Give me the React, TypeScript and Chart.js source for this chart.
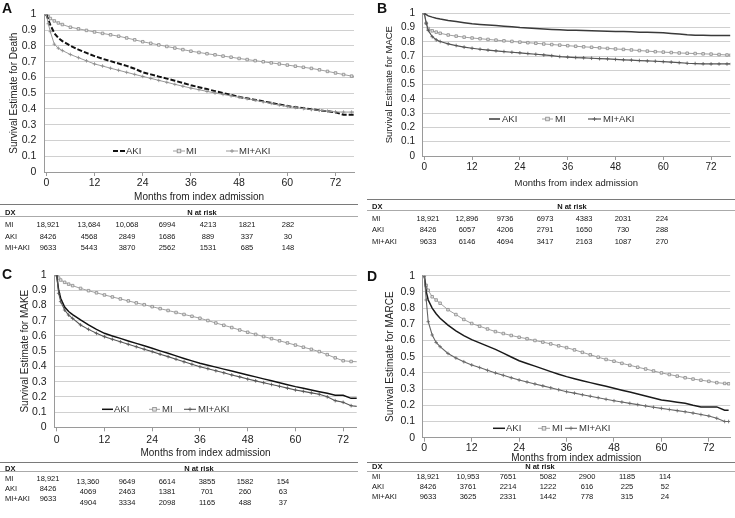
import React, { useEffect, useRef } from 'react';
import { Chart, registerables } from 'chart.js';
Chart.register(...registerables);

// ---------- data ----------
const months = [0, 0.5, 1, 2, 3, 4, 6, 8, 10, 12, 14, 16, 18, 20, 22, 24, 26, 28, 30, 32, 34, 36, 38, 40, 42, 44, 46, 48, 50, 52, 54, 56, 58, 60, 62, 64, 66, 68, 70, 72, 74, 76, 77];
const seriesNames = ['AKI', 'MI', 'MI+AKI'];
const xTickValues = [0, 12, 24, 36, 48, 60, 72];
const yTickValues = [0, 0.1, 0.2, 0.3, 0.4, 0.5, 0.6, 0.7, 0.8, 0.9, 1];

// A: Death
const deathAKI = [1, .965, .933, .88, .85, .83, .8, .776, .755, .735, .718, .703, .688, .673, .655, .632, .619, .605, .592, .579, .565, .55, .538, .526, .513, .501, .489, .476, .467, .457, .448, .438, .428, .418, .411, .405, .398, .391, .385, .378, .363, .363, .363];
const deathMI = [1, .985, .973, .958, .945, .935, .918, .908, .898, .888, .879, .87, .861, .85, .838, .826, .816, .806, .796, .786, .776, .766, .758, .75, .743, .735, .728, .72, .713, .706, .699, .692, .685, .678, .671, .664, .657, .648, .638, .628, .618, .608, .605];
const deathMIAKI = [1, .94, .89, .81, .785, .77, .745, .725, .705, .685, .672, .658, .645, .632, .619, .606, .594, .581, .569, .556, .544, .532, .522, .511, .501, .492, .483, .474, .465, .455, .445, .435, .425, .416, .409, .402, .396, .391, .386, .381, .38, .38, .38];

// B: MACE
const maceAKI = [1, .99, .982, .973, .966, .96, .95, .942, .934, .927, .922, .918, .914, .909, .905, .9, .897, .893, .89, .887, .884, .882, .881, .879, .878, .876, .874, .873, .872, .87, .868, .867, .865, .863, .859, .855, .85, .847, .846, .845, .845, .845, .845];
const maceMI = [1, .93, .893, .877, .868, .86, .848, .84, .833, .827, .822, .817, .812, .807, .803, .798, .794, .79, .785, .781, .777, .773, .769, .765, .762, .758, .754, .75, .747, .743, .739, .735, .731, .728, .725, .722, .72, .718, .716, .714, .711, .708, .707];
const maceMIAKI = [1, .93, .88, .836, .814, .802, .786, .774, .763, .755, .748, .742, .737, .732, .727, .723, .718, .713, .708, .703, .697, .693, .69, .688, .685, .682, .68, .677, .674, .672, .669, .666, .664, .661, .658, .654, .65, .648, .646, .645, .645, .645, .645];

// C: MAKE
const makeAKI = [1, .9, .847, .79, .76, .74, .705, .673, .643, .617, .6, .584, .567, .551, .535, .519, .502, .486, .469, .452, .436, .42, .407, .395, .382, .369, .357, .344, .331, .318, .305, .292, .28, .267, .256, .245, .234, .223, .21, .21, .19, .19, .19];
const makeMI = [1, .98, .967, .952, .94, .93, .912, .897, .883, .869, .856, .843, .83, .817, .805, .792, .779, .767, .754, .741, .729, .716, .701, .685, .67, .655, .639, .624, .61, .596, .582, .568, .554, .54, .526, .512, .497, .477, .456, .437, .432, .43, .43];
const makeMIAKI = [1, .88, .825, .77, .737, .715, .672, .643, .617, .595, .578, .562, .545, .529, .513, .497, .48, .464, .447, .43, .414, .398, .385, .371, .358, .344, .331, .317, .305, .293, .281, .269, .257, .245, .236, .226, .217, .2, .175, .164, .142, .136, .136];

// D: MARCE
const marceAKI = [1, .9, .85, .8, .765, .737, .695, .66, .63, .605, .585, .565, .545, .522, .498, .475, .458, .442, .425, .408, .392, .377, .364, .352, .34, .328, .317, .305, .293, .282, .27, .258, .245, .233, .226, .219, .212, .2, .19, .19, .19, .17, .17];
const marceMI = [1, .94, .91, .87, .85, .83, .79, .76, .73, .705, .688, .671, .655, .643, .631, .62, .611, .6, .59, .579, .567, .556, .542, .527, .512, .497, .483, .472, .459, .447, .435, .424, .412, .4, .39, .38, .37, .362, .355, .348, .34, .335, .333];
const marceMIAKI = [1, .85, .716, .634, .588, .562, .52, .492, .469, .449, .433, .416, .4, .385, .37, .356, .344, .332, .32, .308, .296, .284, .275, .265, .256, .247, .237, .228, .22, .212, .204, .196, .188, .181, .174, .167, .16, .152, .143, .134, .12, .1, .1];

// N at risk
const riskRowLabels = ['MI', 'AKI', 'MI+AKI'];
const riskDeathMI = [18921, 13684, 10068, 6994, 4213, 1821, 282];
const riskDeathAKI = [8426, 4568, 2849, 1686, 889, 337, 30];
const riskDeathMIAKI = [9633, 5443, 3870, 2562, 1531, 685, 148];
const riskMaceMI = [18921, 12896, 9736, 6973, 4383, 2031, 224];
const riskMaceAKI = [8426, 6057, 4206, 2791, 1650, 730, 288];
const riskMaceMIAKI = [9633, 6146, 4694, 3417, 2163, 1087, 270];
const riskMakeMI = [18921, 13360, 9649, 6614, 3855, 1582, 154];
const riskMakeAKI = [8426, 4069, 2463, 1381, 701, 260, 63];
const riskMakeMIAKI = [9633, 4904, 3334, 2098, 1165, 488, 37];
const riskMarceMI = [18921, 10953, 7651, 5082, 2900, 1185, 114];
const riskMarceAKI = [8426, 3761, 2214, 1222, 616, 225, 52];
const riskMarceMIAKI = [9633, 3625, 2331, 1442, 778, 315, 24];

// ---------- styling / layout ----------
const FONT = "'Liberation Sans', Arial, Helvetica, sans-serif";

type Style = { color: string; width: number; dash?: number[]; point?: 'rect' | 'cross'; pColor?: string; pFill?: string };

const miStyle: Style = { color: '#a0a0a0', width: 1, point: 'rect', pColor: '#8a8a8a', pFill: '#e4e4e4' };

const panels = [
  {
    letter: 'A', letterPos: { left: 2, top: 1 },
    yTitle: 'Survival Estimate for Death',
    series: [deathAKI, deathMI, deathMIAKI],
    styles: [
      { color: '#111', width: 2, dash: [5, 2] },
      miStyle,
      { color: '#9a9a9a', width: 1, point: 'cross', pColor: '#8a8a8a' },
    ] as Style[],
    box: { left: 0, top: 0, w: 362, h: 205 },
    pad: { left: 0, top: 9, right: 8, bottom: 0 },
    yW: 44.3, xH: 33, xMin: -0.5, xMax: 76.6,
    xTickPad: 1, xTitlePad: 2, yTitlePad: 8, yTickPad: 8,
    tickSize: 10.5, titleSize: 10,
    legend: { y: 151, items: [{ x0: 113, x1: 125, tx: 126 }, { x0: 173, x1: 185, tx: 186 }, { x0: 226, x1: 238, tx: 239 }] },
    table: {
      top: 205, x0: 0, x1: 358, headY: 212.3, headLine: 216.7, dxX: 5, narX: 201.7,
      rowsY: [224, 236.7, 247.7], restDy: [0, 0, 0],
      cols: [48.3, 89, 127.3, 167.3, 208.3, 246.7, 288],
      rows: [riskDeathMI, riskDeathAKI, riskDeathMIAKI],
    },
  },
  {
    letter: 'B', letterPos: { left: 377, top: 1 },
    yTitle: 'Survival Estimate for MACE',
    series: [maceAKI, maceMI, maceMIAKI],
    styles: [
      { color: '#3a3a3a', width: 1.5 },
      miStyle,
      { color: '#555', width: 1.2, point: 'cross', pColor: '#555' },
    ] as Style[],
    box: { left: 365, top: 0, w: 370, h: 195 },
    pad: { left: 0, top: 9.3, right: 3.3, bottom: 0 },
    yW: 57.3, xH: 39, xMin: -0.5, xMax: 76.8,
    xTickPad: 1.3, xTitlePad: 6.3, yTitlePad: 19, yTickPad: 7.3,
    tickSize: 10, titleSize: 9.5,
    legend: { y: 119, items: [{ x0: 124, x1: 135, tx: 137 }, { x0: 177, x1: 188, tx: 190 }, { x0: 223, x1: 236, tx: 238 }] },
    table: {
      top: 199.3, x0: 367, x1: 735, headY: 206, headLine: 210.5, dxX: 372, narX: 571.7,
      rowsY: [218.5, 229, 241], restDy: [0, 0, 0],
      cols: [428.3, 466.7, 505, 545, 584, 622.7, 661.7],
      rows: [riskMaceMI, riskMaceAKI, riskMaceMIAKI],
    },
  },
  {
    letter: 'C', letterPos: { left: 2, top: 267 },
    yTitle: 'Survival Estimate for MAKE',
    series: [makeAKI, makeMI, makeMIAKI],
    styles: [
      { color: '#111', width: 1.5 },
      miStyle,
      { color: '#555', width: 1.1, point: 'cross', pColor: '#555' },
    ] as Style[],
    box: { left: 0, top: 255, w: 362, h: 205 },
    pad: { left: 0, top: 20, right: 5.3, bottom: 0 },
    yW: 54.3, xH: 32.7, xMin: -0.6, xMax: 75.4,
    xTickPad: 3, xTitlePad: 1, yTitlePad: 19, yTickPad: 7.6,
    tickSize: 10.5, titleSize: 10,
    legend: { y: 154.3, items: [{ x0: 102, x1: 113, tx: 114 }, { x0: 149, x1: 160, tx: 162 }, { x0: 184, x1: 196, tx: 198 }] },
    table: {
      top: 462.7, x0: 0, x1: 358, headY: 468, headLine: 471.7, dxX: 5, narX: 199.3,
      rowsY: [478, 488.3, 498.3], restDy: [3, 2.7, 4.4],
      cols: [48.3, 87.7, 126.7, 166.7, 206.7, 245, 283.3],
      rows: [riskMakeMI, riskMakeAKI, riskMakeMIAKI],
    },
  },
  {
    letter: 'D', letterPos: { left: 367, top: 269 },
    yTitle: 'Survival Estimate for MARCE',
    series: [marceAKI, marceMI, marceMIAKI],
    styles: [
      { color: '#1a1a1a', width: 1.5 },
      miStyle,
      { color: '#666', width: 1.1, point: 'cross', pColor: '#666' },
    ] as Style[],
    box: { left: 365, top: 255, w: 370, h: 210 },
    pad: { left: 0, top: 20.7, right: 1.7, bottom: 0 },
    yW: 57.3, xH: 27.3, xMin: -0.5, xMax: 77.4,
    xTickPad: 0, xTitlePad: 0.7, yTitlePad: 19, yTickPad: 7.3,
    tickSize: 10.5, titleSize: 10,
    legend: { y: 173.3, items: [{ x0: 128, x1: 140, tx: 141 }, { x0: 173, x1: 185, tx: 187 }, { x0: 200, x1: 212, tx: 214 }] },
    table: {
      top: 462.5, x0: 367, x1: 735, headY: 466.7, headLine: 471, dxX: 371.7, narX: 539.7,
      rowsY: [476.7, 486, 496], restDy: [0, 0, 0],
      cols: [428.3, 467.7, 508.3, 548.3, 586.7, 626.7, 665],
      rows: [riskMarceMI, riskMarceAKI, riskMarceMIAKI],
    },
  },
];

type Panel = typeof panels[number];

function drawMarker(ctx: CanvasRenderingContext2D, st: Style, x: number, y: number) {
  if (!st.point) return;
  ctx.save();
  ctx.setLineDash([]);
  ctx.lineWidth = 0.8;
  ctx.strokeStyle = st.pColor || st.color;
  if (st.point === 'rect') {
    ctx.fillStyle = st.pFill || '#ddd';
    ctx.fillRect(x - 1.8, y - 1.8, 3.6, 3.6);
    ctx.strokeRect(x - 1.8, y - 1.8, 3.6, 3.6);
  } else {
    ctx.beginPath();
    ctx.moveTo(x - 2, y); ctx.lineTo(x + 2, y);
    ctx.moveTo(x, y - 2); ctx.lineTo(x, y + 2);
    ctx.stroke();
  }
  ctx.restore();
}

function KMChart({ p }: { p: Panel }) {
  const ref = useRef<HTMLCanvasElement>(null);
  useEffect(() => {
    const legendPlugin = {
      id: 'kmLegend',
      afterDraw(chart: any) {
        const ctx: CanvasRenderingContext2D = chart.ctx;
        ctx.save();
        p.legend.items.forEach((it, i) => {
          const st = p.styles[i];
          const y = p.legend.y;
          ctx.strokeStyle = st.color;
          ctx.lineWidth = st.width;
          ctx.setLineDash(st.dash || []);
          ctx.beginPath();
          ctx.moveTo(it.x0, y);
          ctx.lineTo(it.x1, y);
          ctx.stroke();
          ctx.setLineDash([]);
          drawMarker(ctx, st, (it.x0 + it.x1) / 2, y);
          ctx.fillStyle = '#333';
          ctx.font = `9.5px ${FONT}`;
          ctx.textBaseline = 'middle';
          ctx.textAlign = 'left';
          ctx.fillText(seriesNames[i], it.tx, y + 0.5);
        });
        ctx.restore();
      },
    };

    const datasets = p.series.map((arr, i) => {
      const st = p.styles[i];
      return {
        label: seriesNames[i],
        data: months.map((m, k) => ({ x: m, y: arr[k] })),
        borderColor: st.color,
        borderWidth: st.width,
        borderDash: st.dash || [],
        backgroundColor: st.color,
        pointRadius: st.point ? 1.8 : 0,
        pointStyle: st.point === 'cross' ? 'cross' : 'rect',
        pointBorderColor: st.pColor || st.color,
        pointBackgroundColor: st.pFill || st.color,
        pointBorderWidth: 0.8,
        tension: 0,
        fill: false,
      };
    });
    const ordered = [datasets[2], datasets[0], datasets[1]];

    const chart = new Chart(ref.current as HTMLCanvasElement, {
      type: 'line',
      data: { datasets: ordered as any },
      options: {
        responsive: false,
        maintainAspectRatio: false,
        animation: false,
        devicePixelRatio: 1,
        layout: { padding: p.pad },
        plugins: { legend: { display: false }, tooltip: { enabled: false } },
        events: [],
        scales: {
          x: {
            type: 'linear',
            min: p.xMin,
            max: p.xMax,
            afterBuildTicks: (s: any) => { s.ticks = xTickValues.map((v) => ({ value: v })); },
            afterFit: (s: any) => { s.height = p.xH; },
            ticks: {
              autoSkip: false, maxRotation: 0, padding: p.xTickPad, color: '#222',
              font: { family: FONT, size: p.tickSize },
              callback: (v: any) => String(v),
            },
            grid: { display: true, drawOnChartArea: false, drawTicks: true, tickLength: 4, color: '#9a9a9a' },
            border: { display: true, color: '#9a9a9a', width: 1 },
            title: {
              display: true, text: 'Months from index admission', color: '#222',
              font: { family: FONT, size: p.titleSize }, padding: { top: 0, bottom: p.xTitlePad },
            },
          },
          y: {
            type: 'linear',
            min: 0,
            max: 1,
            afterBuildTicks: (s: any) => { s.ticks = yTickValues.map((v) => ({ value: v })); },
            afterFit: (s: any) => { s.width = p.yW; },
            ticks: {
              autoSkip: false,
              padding: p.yTickPad, color: '#222',
              font: { family: FONT, size: p.tickSize },
              callback: (v: any) => String(Math.round(Number(v) * 10) / 10),
            },
            grid: { color: '#d0d0d0', drawTicks: false, lineWidth: 1 },
            border: { display: true, color: '#9a9a9a', width: 1 },
            title: {
              display: true, text: p.yTitle, color: '#222',
              font: { family: FONT, size: p.titleSize }, padding: { top: p.yTitlePad, bottom: 0 },
            },
          },
        },
      } as any,
      plugins: [legendPlugin],
    });
    return () => chart.destroy();
  }, []);
  return (
    <canvas
      ref={ref}
      width={p.box.w}
      height={p.box.h}
      style={{ position: 'absolute', left: p.box.left, top: p.box.top, width: p.box.w, height: p.box.h }}
    />
  );
}

const fmtN = (n: number) => (n >= 10000 ? n.toLocaleString('en-US') : String(n));

function Txt({ x, y, children, center, bold }: { x: number; y: number; children: any; center?: boolean; bold?: boolean }) {
  const w = 60;
  return (
    <span
      style={{
        position: 'absolute', left: Math.round(center ? x - w / 2 : x), top: Math.round(y - 4.5),
        width: center ? w : undefined, textAlign: center ? 'center' : 'left',
        height: 9, lineHeight: '9px', fontSize: 7.5,
        fontFamily: FONT, fontWeight: bold ? 700 : 400, color: '#151515', whiteSpace: 'nowrap',
      }}
    >
      {children}
    </span>
  );
}

function RiskTable({ p }: { p: Panel }) {
  const t = p.table;
  return (
    <div style={{ position: 'absolute', left: 0, top: 0, width: 735, height: 518, willChange: 'transform', pointerEvents: 'none' }}>
      <div style={{ position: 'absolute', left: t.x0, top: t.top - 0.75, width: t.x1 - t.x0, height: 0, borderTop: '1.5px solid #7a7a7a' }} />
      <div style={{ position: 'absolute', left: t.x0, top: t.headLine - 0.5, width: t.x1 - t.x0, height: 0, borderTop: '1px solid #aaa' }} />
      <Txt x={t.dxX} y={t.headY} bold>DX</Txt>
      <Txt x={t.narX} y={t.headY} center bold>N at risk</Txt>
      {t.rows.map((row, r) => (
        <React.Fragment key={r}>
          <Txt x={t.dxX} y={t.rowsY[r]}>{riskRowLabels[r]}</Txt>
          {row.map((n, c) => (
            <Txt key={c} x={t.cols[c]} y={t.rowsY[r] + (c === 0 ? 0 : t.restDy[r])} center>{fmtN(n)}</Txt>
          ))}
        </React.Fragment>
      ))}
    </div>
  );
}

export default function App() {
  return (
    <div style={{ position: 'absolute', left: 0, top: 0, width: 735, height: 518, background: '#fff', overflow: 'hidden' }}>
      {panels.map((p) => (
        <React.Fragment key={p.letter}>
          <KMChart p={p} />
          <RiskTable p={p} />
          <div
            style={{
              position: 'absolute', left: p.letterPos.left, top: p.letterPos.top, fontFamily: FONT,
              fontWeight: 700, fontSize: 14, lineHeight: '14px', color: '#111',
            }}
          >
            {p.letter}
          </div>
        </React.Fragment>
      ))}
    </div>
  );
}
